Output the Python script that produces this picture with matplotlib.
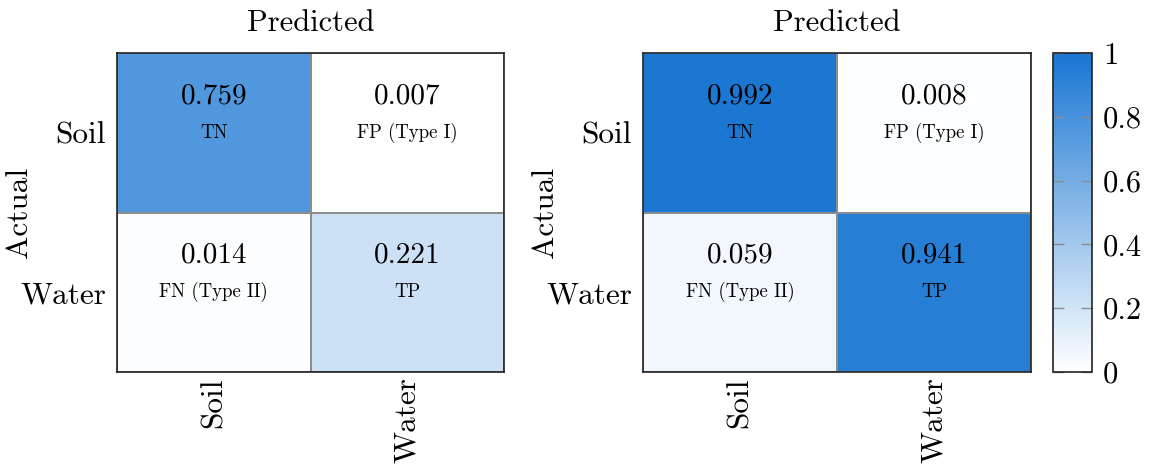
import numpy as np
import matplotlib
matplotlib.use("Agg")
import matplotlib.pyplot as plt
from matplotlib.colors import LinearSegmentedColormap

# Confusion matrix values (rows: actual, columns: predicted)
classes = ["Soil", "Water"]
cm_left = [[0.759, 0.007],
           [0.014, 0.221]]
cm_right = [[0.992, 0.008],
            [0.059, 0.941]]
cell_names = [["TN", "FP (Type I)"],
              ["FN (Type II)", "TP"]]
cbar_ticks = [0, 0.2, 0.4, 0.6, 0.8, 1]

plt.rcParams["font.family"] = ["cmr10", "DejaVu Serif"]
plt.rcParams["mathtext.fontset"] = "cm"
plt.rcParams["axes.formatter.use_mathtext"] = True

cmap = LinearSegmentedColormap.from_list("wb", ["#ffffff", "#1976d2"])

W, H = 1154, 466
fig = plt.figure(figsize=(W / 100, H / 100), dpi=100)

def px_axes(x0, y0, x1, y1):
    return fig.add_axes([x0 / W, 1 - y1 / H, (x1 - x0) / W, (y1 - y0) / H])

def draw_matrix(ax, data, ylabel_x):
    data = np.array(data)
    mesh = ax.pcolormesh(np.arange(3) - 0.5, np.arange(3) - 0.5, data,
                         cmap=cmap, vmin=0, vmax=1,
                         edgecolors="#8c8c8c", linewidth=1.2)
    ax.set_xlim(-0.5, 1.5)
    ax.set_ylim(1.5, -0.5)
    for i in range(2):
        for j in range(2):
            ax.text(j, i - 0.23, f"{data[i, j]:.3f}", ha="center", va="center",
                    fontsize=21)
            ax.text(j, i, cell_names[i][j], ha="center", va="center",
                    fontsize=13.5)
    ax.set_xticks([0, 1])
    ax.set_xticklabels(classes, rotation=90, fontsize=22.5)
    ax.set_yticks([0, 1])
    ax.set_yticklabels(classes, fontsize=22.5)
    ax.tick_params(axis="x", length=0, pad=4)
    ax.tick_params(axis="y", length=0, pad=8)
    ax.set_title("Predicted", fontsize=22, pad=16)
    ax.set_ylabel("Actual", fontsize=22.5)
    ax.yaxis.set_label_coords(ylabel_x, 0.5)
    for s in ax.spines.values():
        s.set_color("#222222")
        s.set_linewidth(1.2)
    return mesh

ax1 = px_axes(117, 53, 504, 372)
draw_matrix(ax1, cm_left, -0.217)
ax2 = px_axes(643, 53, 1031, 372)
mesh = draw_matrix(ax2, cm_right, -0.216)

cax = px_axes(1053, 53, 1092, 372)
cb = fig.colorbar(mesh, cax=cax)
cb.set_ticks(cbar_ticks)
cb.set_ticklabels([f"{t:g}" for t in cbar_ticks])
cax.tick_params(direction="in", length=8, width=1, color="#8c8c8c",
                left=True, right=True, labelsize=22, pad=8)
cb.outline.set_edgecolor("#222222")
cb.outline.set_linewidth(1.2)

fig.savefig("out.png", dpi=100)
